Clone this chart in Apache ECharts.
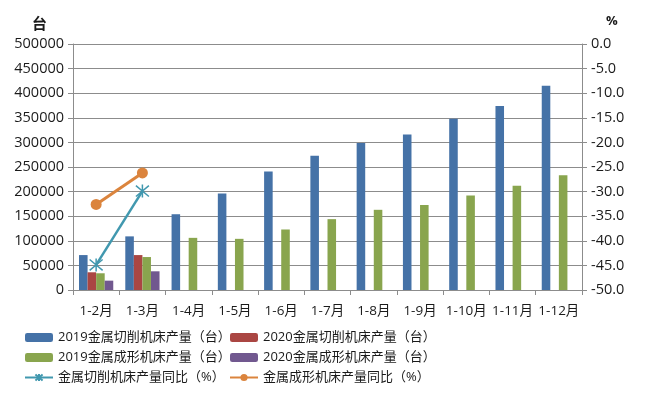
<!DOCTYPE html>
<html><head><meta charset="utf-8">
<script src="https://cdn.jsdelivr.net/npm/echarts@6/dist/echarts.min.js"></script>
<style>html,body{margin:0;padding:0;background:#fff}#c{width:648px;height:397px}</style>
</head><body><div id="c"></div>
<script>
const categories = ['1-2月','1-3月','1-4月','1-5月','1-6月','1-7月','1-8月','1-9月','1-10月','1-11月','1-12月'];
const cut2019 = [71000,109000,154000,196000,241000,273000,299000,316000,348000,374000,415000];
const cut2020 = [36000,71000,null,null,null,null,null,null,null,null,null];
const form2019 = [34000,67000,106000,104000,123000,144000,163000,173000,192000,212000,233000];
const form2020 = [19000,38000,null,null,null,null,null,null,null,null,null];
const cutYoY = [-44.9,-29.9,null,null,null,null,null,null,null,null,null];
const formYoY = [-32.6,-26.2,null,null,null,null,null,null,null,null,null];
const leftTicks = {min:0,max:500000,interval:50000};
const rightTicks = {min:-50,max:0,interval:5};

const names = ['2019金属切削机床产量（台）','2020金属切削机床产量（台）','2019金属成形机床产量（台）','2020金属成形机床产量（台）','金属切削机床产量同比（%）','金属成形机床产量同比（%）'];
const FONT = '"Open Sans","Noto Sans CJK SC",sans-serif';
const txt = {fontFamily:FONT,fontSize:13,color:'#1a1a1a'};
const star = 'path://M0,0 L10,10 M10,0 L0,10 M5,-1 L5,11';
const chart = echarts.init(document.getElementById('c'));
const bar = (name, data, color) => ({name, type:'bar', data, yAxisIndex:0, barGap:'0%', barCategoryGap:'26%', itemStyle:{color}});
const legendBase = {top:331,orient:'vertical',padding:0,itemWidth:28,itemHeight:9,itemGap:7,textStyle:Object.assign({},txt,{fontSize:13})};
chart.setOption({
  animation:false,
  textStyle:{fontFamily:FONT},
  grid:{left:73,right:66,top:44,bottom:107},
  legend:[
    Object.assign({left:24,data:[names[0],names[2],names[4]]},legendBase),
    Object.assign({left:229,data:[names[1],names[3],names[5]]},legendBase)
  ],
  xAxis:{type:'category',data:categories,
    axisLine:{lineStyle:{color:'#8c8c8c'}},
    axisTick:{show:true,length:5,lineStyle:{color:'#8c8c8c'}},
    axisLabel:Object.assign({},txt,{fontSize:13.5,interval:0,margin:14})},
  yAxis:[
    {type:'value',min:leftTicks.min,max:leftTicks.max,interval:leftTicks.interval,position:'left',
     name:'台',nameLocation:'end',nameGap:12,nameTextStyle:{fontFamily:FONT,fontSize:15,fontWeight:'bold',color:'#1a1a1a',align:'right',padding:[0,26,0,0]},
     axisLine:{show:true,lineStyle:{color:'#8c8c8c'}},axisTick:{show:true,length:5,lineStyle:{color:'#8c8c8c'}},
     splitLine:{lineStyle:{color:'#8c8c8c'}},
     axisLabel:Object.assign({},txt,{fontSize:14.5,margin:9,formatter:v=>String(v)})},
    {type:'value',min:rightTicks.min,max:rightTicks.max,interval:rightTicks.interval,position:'right',
     name:'%',nameLocation:'end',nameGap:16,nameTextStyle:{fontFamily:FONT,fontSize:13,fontWeight:'bold',color:'#1a1a1a',align:'left',padding:[0,0,0,24]},
     axisLine:{show:true,lineStyle:{color:'#8c8c8c'}},axisTick:{show:true,length:5,lineStyle:{color:'#8c8c8c'}},
     splitLine:{show:false},
     axisLabel:Object.assign({},txt,{fontSize:14.5,margin:9,formatter:v=>v.toFixed(1)})}
  ],
  series:[
    bar(names[0],cut2019,'#4572A7'),
    bar(names[1],cut2020,'#AA4643'),
    bar(names[2],form2019,'#89A54E'),
    bar(names[3],form2020,'#71588F'),
    {name:names[4],type:'line',yAxisIndex:1,data:cutYoY,symbol:star,symbolSize:13,
     lineStyle:{color:'#4198AF',width:2.5},itemStyle:{color:'#4198AF',borderColor:'#4198AF',borderWidth:1.5}},
    {name:names[5],type:'line',yAxisIndex:1,data:formYoY,symbol:'circle',symbolSize:11,
     lineStyle:{color:'#DB843D',width:3},itemStyle:{color:'#DB843D'}}
  ]
});
</script></body></html>
